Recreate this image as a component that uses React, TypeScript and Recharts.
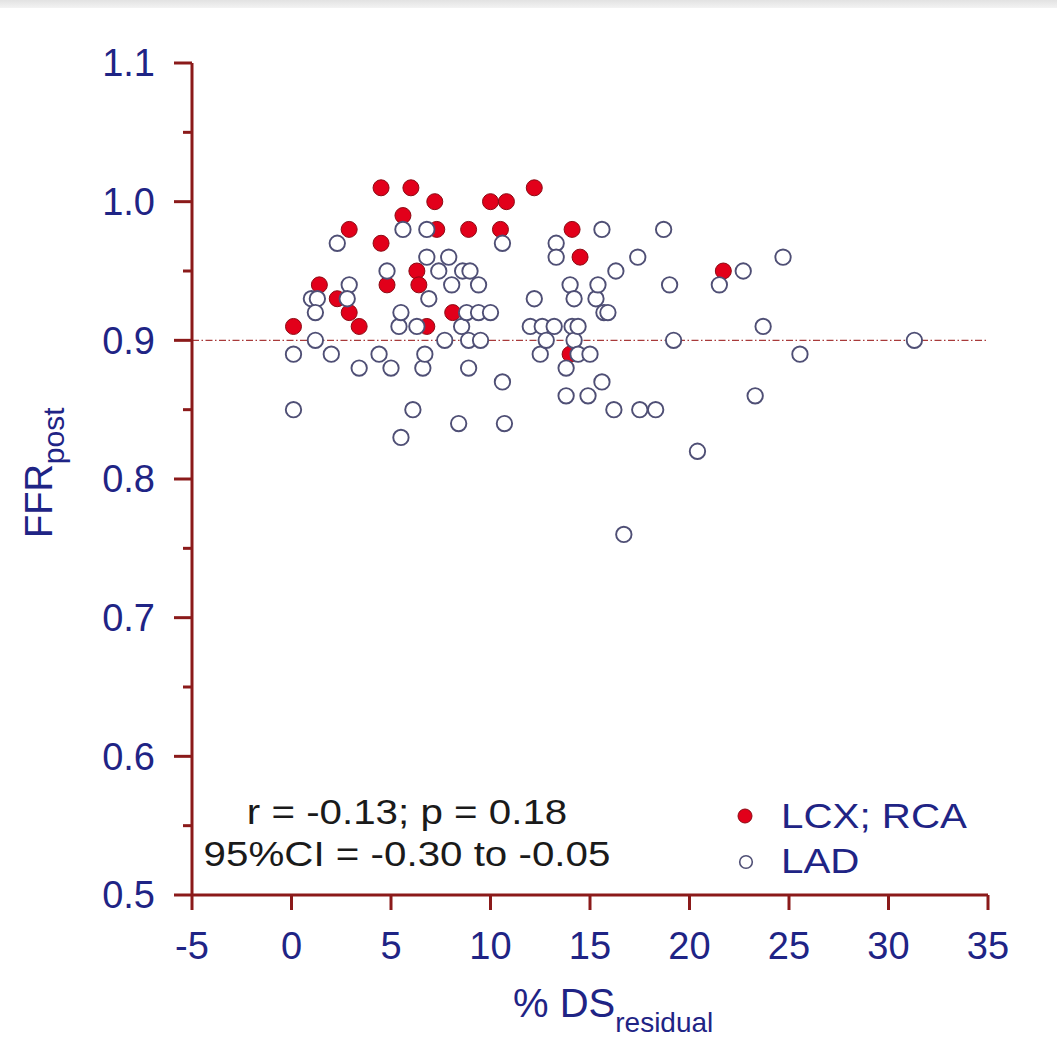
import React from 'react';
import { ScatterChart, Scatter, XAxis, YAxis, ReferenceLine } from 'recharts';

// LCX; RCA (filled red)
const lcxRcaX = [0.1, 1.4, 2.3, 2.9, 2.9, 3.4, 4.5, 4.5, 4.8, 5.6, 6.0, 6.3, 6.4, 6.8, 7.2, 7.3, 8.1, 8.9, 10.0, 10.8, 10.5, 12.2, 14.1, 14.5, 14.0, 21.7];
const lcxRcaY = [0.91, 0.94, 0.93, 0.98, 0.92, 0.91, 1.01, 0.97, 0.94, 0.99, 1.01, 0.95, 0.94, 0.91, 1.0, 0.98, 0.92, 0.98, 1.0, 1.0, 0.98, 1.01, 0.98, 0.96, 0.89, 0.95];

// LAD (open circles)
const ladX = [0.1, 0.1, 1.0, 1.3, 1.2, 1.2, 2.0, 2.3, 2.9, 2.8, 3.4, 4.4, 4.8, 5.0, 5.4, 5.5, 5.6, 5.5, 6.1, 6.3, 6.6, 6.7, 6.8, 6.8, 6.9, 7.4, 7.7, 7.9, 8.05, 8.4, 8.55, 8.6, 8.8, 8.9, 8.9, 8.97, 9.4, 9.4, 9.5, 10.0, 10.6, 10.6, 10.7,
  12.0, 12.2, 12.5, 12.6, 12.8, 13.2, 13.3, 13.3, 13.8, 13.8, 14.0, 14.1, 14.2, 14.2, 14.4, 14.4, 14.9, 15.0, 15.3, 15.4, 15.6, 15.6, 15.7, 15.9, 16.2, 16.3, 16.7, 17.4, 17.5, 18.3, 18.7, 19.0, 19.2, 20.4, 21.5, 22.7, 23.3, 23.7, 24.7, 25.55, 31.3];
const ladY = [0.89, 0.85, 0.93, 0.93, 0.92, 0.90, 0.89, 0.97, 0.94, 0.93, 0.88, 0.89, 0.95, 0.88, 0.91, 0.92, 0.98, 0.83, 0.85, 0.91, 0.88, 0.89, 0.96, 0.98, 0.93, 0.95, 0.90, 0.96, 0.94, 0.84, 0.91, 0.95, 0.92, 0.90, 0.88, 0.95, 0.94, 0.92, 0.90, 0.92, 0.97, 0.87, 0.84,
  0.91, 0.93, 0.89, 0.91, 0.90, 0.91, 0.97, 0.96, 0.88, 0.86, 0.94, 0.91, 0.93, 0.90, 0.91, 0.89, 0.86, 0.89, 0.93, 0.94, 0.98, 0.87, 0.92, 0.92, 0.85, 0.95, 0.76, 0.96, 0.85, 0.85, 0.98, 0.94, 0.90, 0.82, 0.94, 0.95, 0.86, 0.91, 0.96, 0.89, 0.90];

const xTicks = [-5, 0, 5, 10, 15, 20, 25, 30, 35];
const yMajorTicks = [0.5, 0.6, 0.7, 0.8, 0.9, 1.0, 1.1];
const yMinorTicks = [0.55, 0.65, 0.75, 0.85, 0.95, 1.05];
const thresholdFFR = 0.9;

const seriesNames = ['LCX; RCA', 'LAD'];
const statLines = ['r = -0.13; p = 0.18', '95%CI = -0.30 to -0.05'];

const lcxData = lcxRcaX.map((x, i) => ({ x, y: lcxRcaY[i] }));
const ladData = ladX.map((x, i) => ({ x, y: ladY[i] }));
const yAllTicks = [...yMajorTicks, ...yMinorTicks].sort((a, b) => a - b);

const AXIS = '#8b1a1a';
const NAVY = '#1f2485';
const FONT = '"Liberation Sans", Arial, sans-serif';
const Y_TICK = 18;
const Y_MARGIN = 19;

function YTick(props: any) {
  const { x, y, payload } = props;
  const axisX = x + Y_TICK + Y_MARGIN;
  const major = yMajorTicks.some((t) => Math.abs(t - payload.value) < 1e-9);
  const len = major ? Y_TICK : 9;
  return (
    <g>
      <line x1={axisX - len} x2={axisX} y1={y} y2={y} stroke={AXIS} strokeWidth={3} />
      {major && (
        <text x={x} y={y} dy="0.355em" textAnchor="end" fill={NAVY} fontSize={38} fontFamily={FONT}>
          {payload.value.toFixed(1)}
        </text>
      )}
    </g>
  );
}

const RedDot = (p: any) => (
  <circle cx={p.cx} cy={p.cy} r={8} fill="#e2001a" stroke="#8c0a14" strokeWidth={1} />
);
const OpenDot = (p: any) => (
  <circle cx={p.cx} cy={p.cy} r={7.7} fill="#ffffff" stroke="#4f4f75" strokeWidth={1.9} />
);

const WideText = ({ x, y, anchor, fill, children }: any) => (
  <text
    transform={`translate(${x} ${y}) scale(1.12 1)`}
    x={0}
    y={0}
    textAnchor={anchor}
    fontSize={36}
    fill={fill}
    fontFamily={FONT}
  >
    {children}
  </text>
);

export default function App() {
  return (
    <div style={{ position: 'absolute', left: 0, top: 0, width: 1057, height: 1056, background: '#fff', fontFamily: FONT }}>
      <div style={{ position: 'absolute', left: 0, top: 0, width: 1057, height: 8, background: 'linear-gradient(to bottom, #e2e2e2, #f3f3f3)' }} />
      <ScatterChart width={1057} height={1056} margin={{ top: 63, right: 69, bottom: 0, left: 0 }}>
        <XAxis
          type="number"
          dataKey="x"
          domain={[-5, 35]}
          ticks={xTicks}
          interval={0}
          height={161}
          tickSize={15}
          tickMargin={22}
          axisLine={{ stroke: AXIS, strokeWidth: 3 }}
          tickLine={{ stroke: AXIS, strokeWidth: 3 }}
          tick={{ fill: NAVY, fontSize: 38, fontFamily: FONT }}
          allowDataOverflow
        />
        <YAxis
          type="number"
          dataKey="y"
          domain={[0.5, 1.1]}
          ticks={yAllTicks}
          interval={0}
          width={192}
          tickSize={Y_TICK}
          tickMargin={Y_MARGIN}
          axisLine={{ stroke: AXIS, strokeWidth: 3 }}
          tickLine={false}
          tick={<YTick />}
          allowDataOverflow
        />
        <ReferenceLine y={thresholdFFR} stroke="#a83a3a" strokeWidth={1.2} strokeDasharray="7 2.5 1.5 2.5" />
        <Scatter name={seriesNames[0]} data={lcxData} shape={RedDot} isAnimationActive={false} />
        <Scatter name={seriesNames[1]} data={ladData} shape={OpenDot} isAnimationActive={false} />
      </ScatterChart>
      <svg width={1057} height={1056} style={{ position: 'absolute', left: 0, top: 0, pointerEvents: 'none' }}>
        <text x={52} y={538} transform="rotate(-90 52 538)" fontSize={38} fill={NAVY} fontFamily={FONT}>
          FFR<tspan fontSize={30} dy={12}>post</tspan>
        </text>
        <text x={513} y={1017} fontSize={40} fill={NAVY} fontFamily={FONT}>
          % DS<tspan fontSize={28} dy={15}>residual</tspan>
        </text>
        <WideText x={407} y={824} anchor="middle" fill="#1a1a1a">{statLines[0]}</WideText>
        <WideText x={407} y={866} anchor="middle" fill="#1a1a1a">{statLines[1]}</WideText>
        <circle cx={745} cy={816} r={7} fill="#e2001a" stroke="#8c0a14" strokeWidth={1} />
        <WideText x={781} y={828} anchor="start" fill={NAVY}>{seriesNames[0]}</WideText>
        <circle cx={746} cy={862} r={6.3} fill="#fff" stroke="#4f4f75" strokeWidth={1.6} />
        <WideText x={781} y={873} anchor="start" fill={NAVY}>{seriesNames[1]}</WideText>
      </svg>
    </div>
  );
}
